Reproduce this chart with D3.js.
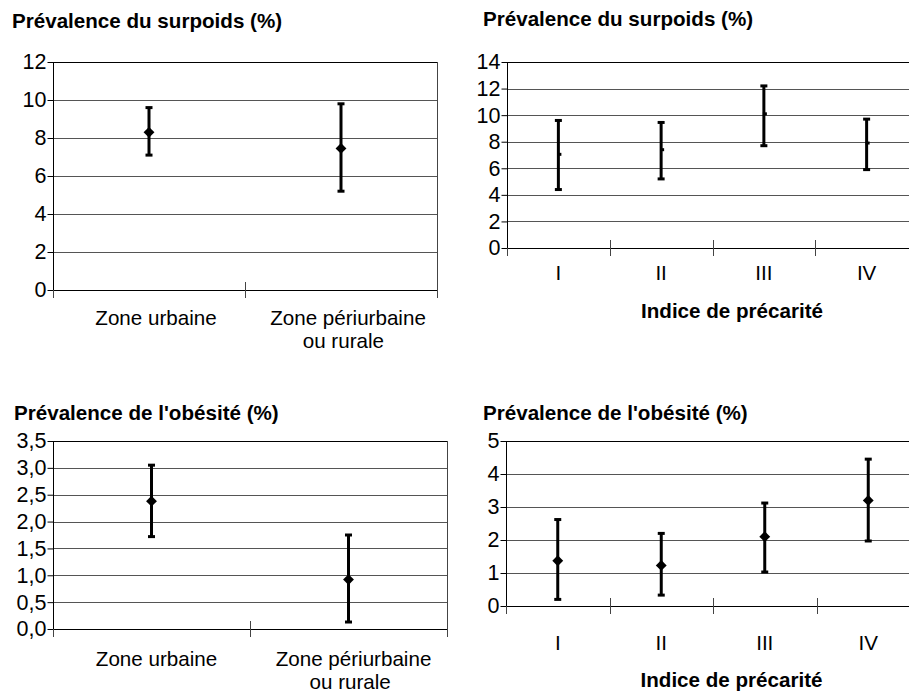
<!DOCTYPE html>
<html>
<head>
  <meta charset="utf-8">
  <title>Prévalence surpoids / obésité</title>
  <style>
    body { margin: 0; background: #fff; }
    svg text { font-family: "Liberation Sans", Arial, sans-serif; fill: #000; }
    .title, .axis-title { font-weight: bold; }
  </style>
</head>
<body>
  <div class="area"></div>

  <script src="https://cdn.jsdelivr.net/npm/d3@7"></script>
  <script type="text/javascript">

  var w = 909, h = 693;

  // categories
  var zones   = ["Zone urbaine", "Zone périurbaine\nou rurale"];
  var indices = ["I", "II", "III", "IV"];

  // surpoids by zone (%)
  var surpoidsZone     = [8.3, 7.45];
  var surpoidsZoneLow  = [7.1, 5.2];
  var surpoidsZoneHigh = [9.6, 9.8];

  // surpoids by indice de précarité (%)
  var surpoidsIdx     = [7.05, 7.4, 10.1, 7.9];
  var surpoidsIdxLow  = [4.4, 5.2, 7.7, 5.9];
  var surpoidsIdxHigh = [9.6, 9.45, 12.2, 9.7];

  // obésité by zone (%)
  var obesiteZone     = [2.38, 0.92];
  var obesiteZoneLow  = [1.72, 0.13];
  var obesiteZoneHigh = [3.05, 1.75];

  // obésité by indice de précarité (%)
  var obesiteIdx     = [1.37, 1.23, 2.1, 3.2];
  var obesiteIdxLow  = [0.2, 0.33, 1.03, 1.97];
  var obesiteIdxHigh = [2.62, 2.2, 3.12, 4.45];

  // y ticks
  var ticksSurpoidsZone = [0, 2, 4, 6, 8, 10, 12];
  var ticksSurpoidsIdx  = [0, 2, 4, 6, 8, 10, 12, 14];
  var ticksObesiteZone  = [0, 0.5, 1, 1.5, 2, 2.5, 3, 3.5];
  var ticksObesiteIdx   = [0, 1, 2, 3, 4, 5];

  var fr = d3.formatLocale({decimal: ",", thousands: " ", grouping: [3], currency: ["", " €"]});

  var panels = [
    {title: "Prévalence du surpoids (%)", tx: 12, ty: 28,
     cats: zones, mean: surpoidsZone, low: surpoidsZoneLow, high: surpoidsZoneHigh,
     ticks: ticksSurpoidsZone, fmt: d3.format("d"),
     x0: 53, x1: 437, y0: 290, y1: 62, frame: true, diamond: true,
     labelY: 325, labelDx: 7, axisTitle: null},
    {title: "Prévalence du surpoids (%)", tx: 483, ty: 26,
     cats: indices, mean: surpoidsIdx, low: surpoidsIdxLow, high: surpoidsIdxHigh,
     ticks: ticksSurpoidsIdx, fmt: d3.format("d"),
     x0: 507, x1: 918, y0: 248, y1: 62, frame: false, diamond: false,
     labelY: 280, labelDx: 0, axisTitle: "Indice de précarité", atY: 318},
    {title: "Prévalence de l'obésité (%)", tx: 14, ty: 420,
     cats: zones, mean: obesiteZone, low: obesiteZoneLow, high: obesiteZoneHigh,
     ticks: ticksObesiteZone, fmt: fr.format(".1f"),
     x0: 53, x1: 447, y0: 629, y1: 441, frame: true, diamond: true,
     labelY: 666, labelDx: 5, axisTitle: null},
    {title: "Prévalence de l'obésité (%)", tx: 483, ty: 420,
     cats: indices, mean: obesiteIdx, low: obesiteIdxLow, high: obesiteIdxHigh,
     ticks: ticksObesiteIdx, fmt: d3.format("d"),
     x0: 506, x1: 920, y0: 606, y1: 441, frame: false, diamond: true,
     labelY: 650, labelDx: 0, axisTitle: "Indice de précarité", atY: 687}
  ];

  var svg = d3.select('.area')
    .append('svg')
    .attr('width', w)
    .attr('height', h);

  panels.forEach(function(p){
    var g = svg.append('g');

    var x = d3.scaleBand().domain(p.cats).range([p.x0, p.x1]).paddingInner(0).paddingOuter(0);
    var y = d3.scaleLinear().domain([0, d3.max(p.ticks)]).range([p.y0, p.y1]);

    // title
    g.append('text').attr('class', 'title')
      .attr('x', p.tx).attr('y', p.ty)
      .style('font-size', '20.6px')
      .text(p.title);

    // gridlines
    g.selectAll('.grid').data(p.ticks.slice(1)).enter().append('line')
      .attr('x1', p.x0).attr('x2', p.x1)
      .attr('y1', function(d){ return Math.round(y(d)) + 0.5; })
      .attr('y2', function(d){ return Math.round(y(d)) + 0.5; })
      .attr('stroke', function(d, i){ return i === p.ticks.length - 2 ? '#000' : '#555'; })
      .attr('stroke-width', 1);

    if (p.frame) {
      g.append('line')
        .attr('x1', p.x1 + 0.5).attr('x2', p.x1 + 0.5)
        .attr('y1', p.y1).attr('y2', p.y0)
        .attr('stroke', '#444');
    }

    // y axis
    var yAxis = d3.axisLeft(y).tickValues(p.ticks).tickFormat(p.fmt)
      .tickSize(6).tickPadding(1);
    var ya = g.append('g')
      .attr('transform', 'translate(' + (p.x0 + 0.5) + ',0)')
      .call(yAxis);
    ya.selectAll('text').style('font-size', '21.5px').style('font-family', '"Liberation Sans", Arial, sans-serif').attr('fill', '#000');
    ya.selectAll('line, path').attr('stroke', '#000');
    ya.select('.domain').attr('d', 'M0,' + p.y0 + 'V' + p.y1);

    // x axis line
    g.append('line')
      .attr('x1', p.x0).attr('x2', p.x1)
      .attr('y1', Math.round(p.y0) + 0.5).attr('y2', Math.round(p.y0) + 0.5)
      .attr('stroke', '#000');

    // category boundary ticks
    var bounds = p.cats.map(function(c){ return x(c); }).concat([p.x1]);
    g.selectAll('.xtick').data(bounds).enter().append('line')
      .attr('x1', function(d){ return Math.round(d) + 0.5; })
      .attr('x2', function(d){ return Math.round(d) + 0.5; })
      .attr('y1', function(d, i){ return (i === 0 || i === bounds.length - 1) ? p.y0 : p.y0 - 8; })
      .attr('y2', p.y0 + 8)
      .attr('stroke', '#444');

    // category labels
    g.selectAll('.xlab').data(p.cats).enter().append('text')
      .attr('text-anchor', 'middle')
      .attr('x', function(d){ return x(d) + x.bandwidth() / 2; })
      .attr('y', p.labelY)
      .style('font-size', '20.6px')
      .each(function(d){
        var t = d3.select(this);
        d.split('\n').forEach(function(line, i){
          t.append('tspan')
            .attr('x', x(d) + x.bandwidth() / 2 + (i === 0 ? p.labelDx : p.labelDx / 3))
            .attr('dy', i === 0 ? 0 : 23)
            .text(line);
        });
      });

    if (p.axisTitle) {
      g.append('text').attr('class', 'axis-title')
        .attr('text-anchor', 'middle')
        .attr('x', (p.x0 + 909) / 2 + 24)
        .attr('y', p.atY)
        .style('font-size', '20.6px')
        .text(p.axisTitle);
    }

    // error bars
    var cx = function(i){ return x(p.cats[i]) + x.bandwidth() / 2; };
    var idx = d3.range(p.cats.length);

    g.selectAll('.bar').data(idx).enter().append('line')
      .attr('x1', cx).attr('x2', cx)
      .attr('y1', function(i){ return y(p.low[i]); })
      .attr('y2', function(i){ return y(p.high[i]); })
      .attr('stroke', '#000').attr('stroke-width', 3);

    ['low', 'high'].forEach(function(k){
      g.selectAll('.cap-' + k).data(idx).enter().append('line')
        .attr('x1', function(i){ return cx(i) - 3.5; })
        .attr('x2', function(i){ return cx(i) + 3.5; })
        .attr('y1', function(i){ return y(p[k][i]); })
        .attr('y2', function(i){ return y(p[k][i]); })
        .attr('stroke', '#000').attr('stroke-width', 3);
    });

    // mean markers
    if (p.diamond) {
      g.selectAll('.pt').data(idx).enter().append('path')
        .attr('d', d3.symbol().type(d3.symbolDiamond2).size(75))
        .attr('transform', function(i){ return 'translate(' + cx(i) + ',' + y(p.mean[i]) + ')'; })
        .attr('fill', '#000');
    } else {
      g.selectAll('.pt').data(idx).enter().append('rect')
        .attr('x', function(i){ return cx(i) - 1; })
        .attr('y', function(i){ return y(p.mean[i]) - 1.5; })
        .attr('width', 4).attr('height', 3)
        .attr('fill', '#000');
    }
  });

  </script>
</body>
</html>
